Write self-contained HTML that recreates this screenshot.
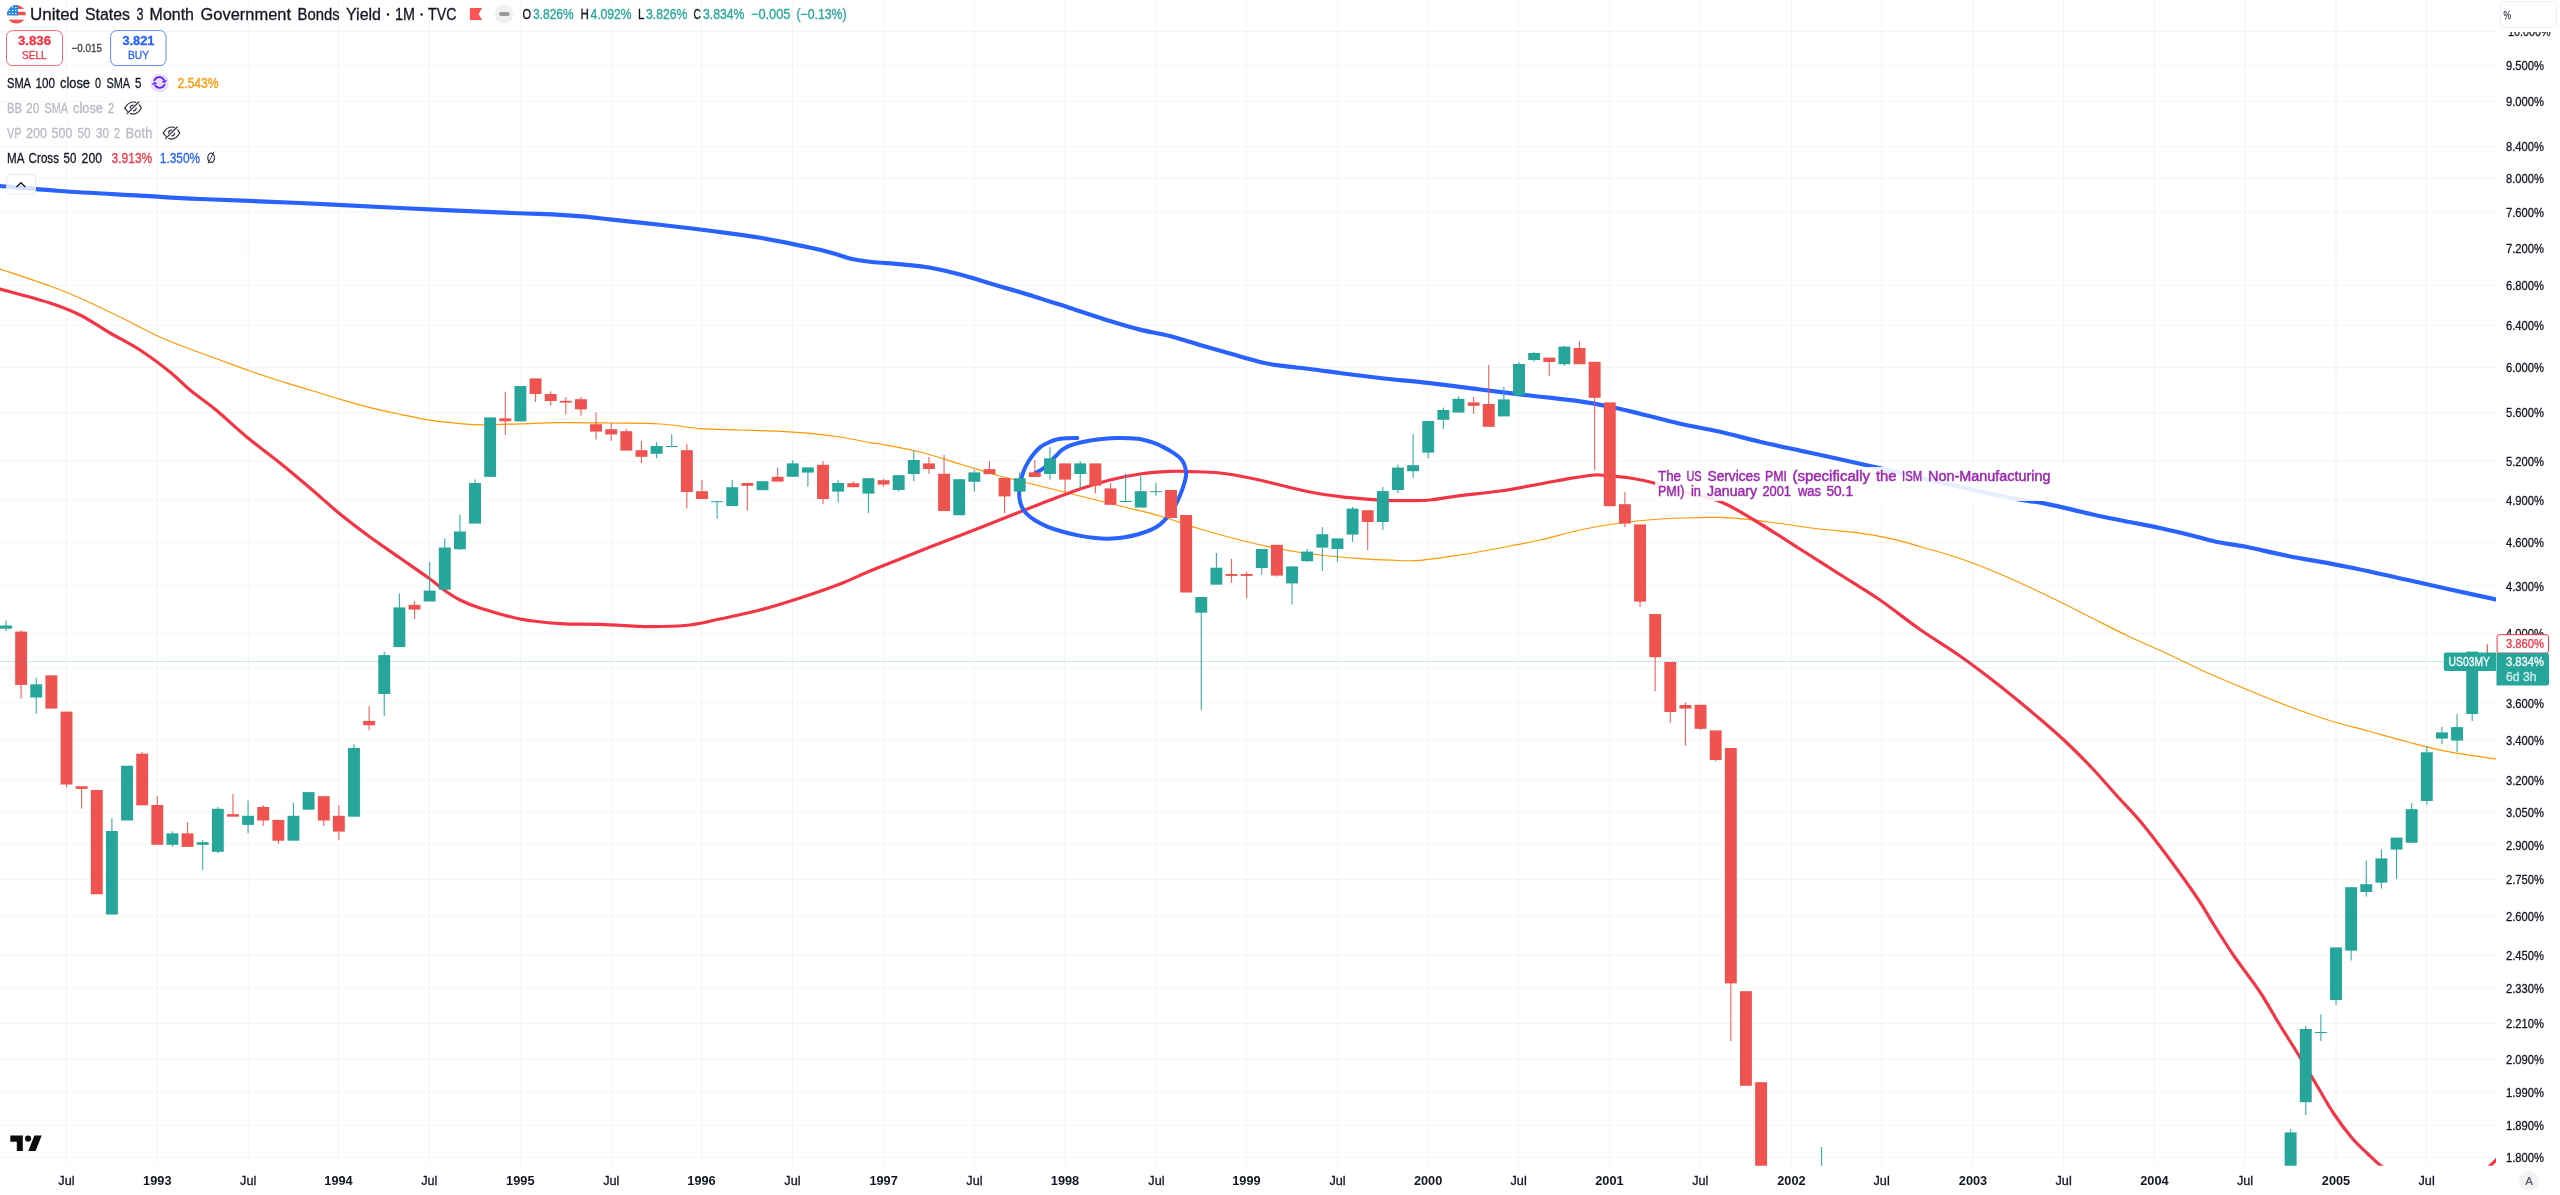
<!DOCTYPE html>
<html lang="en"><head><meta charset="utf-8"><title>US03MY chart</title>
<style>html,body{margin:0;padding:0;background:#fff;overflow:hidden}body{width:2560px;height:1195px;position:relative;font-family:"Liberation Sans", sans-serif}svg{position:absolute;left:0;top:0;display:block;will-change:transform;transform:translateZ(0)}text{font-family:"Liberation Sans", sans-serif;white-space:pre}</style></head><body>
<svg width="2560" height="1195" viewBox="0 0 2560 1195">
<defs><clipPath id="pane"><rect x="0" y="0" width="2496" height="1165.8"/></clipPath>
<clipPath id="axis"><rect x="2496" y="32" width="64" height="1133.8"/></clipPath>
<clipPath id="flag"><circle cx="16.4" cy="14.3" r="9.3"/></clipPath></defs>
<rect x="0" y="0" width="2560" height="1195" fill="#ffffff"/>
<g id="grid" stroke="#2a2e39" stroke-opacity="0.045" stroke-width="1.1">
<line x1="66.4" y1="0" x2="66.4" y2="1165.8"/>
<line x1="157.3" y1="0" x2="157.3" y2="1165.8"/>
<line x1="248.15" y1="0" x2="248.15" y2="1165.8"/>
<line x1="338.53" y1="0" x2="338.53" y2="1165.8"/>
<line x1="429.3" y1="0" x2="429.3" y2="1165.8"/>
<line x1="520.3" y1="0" x2="520.3" y2="1165.8"/>
<line x1="611.3" y1="0" x2="611.3" y2="1165.8"/>
<line x1="701.5" y1="0" x2="701.5" y2="1165.8"/>
<line x1="792.4" y1="0" x2="792.4" y2="1165.8"/>
<line x1="883.6" y1="0" x2="883.6" y2="1165.8"/>
<line x1="974.4" y1="0" x2="974.4" y2="1165.8"/>
<line x1="1065" y1="0" x2="1065" y2="1165.8"/>
<line x1="1156.4" y1="0" x2="1156.4" y2="1165.8"/>
<line x1="1246.4" y1="0" x2="1246.4" y2="1165.8"/>
<line x1="1337.55" y1="0" x2="1337.55" y2="1165.8"/>
<line x1="1428.1" y1="0" x2="1428.1" y2="1165.8"/>
<line x1="1518.6" y1="0" x2="1518.6" y2="1165.8"/>
<line x1="1609.4" y1="0" x2="1609.4" y2="1165.8"/>
<line x1="1700.3" y1="0" x2="1700.3" y2="1165.8"/>
<line x1="1791.45" y1="0" x2="1791.45" y2="1165.8"/>
<line x1="1881.6" y1="0" x2="1881.6" y2="1165.8"/>
<line x1="1973" y1="0" x2="1973" y2="1165.8"/>
<line x1="2063.6" y1="0" x2="2063.6" y2="1165.8"/>
<line x1="2154.4" y1="0" x2="2154.4" y2="1165.8"/>
<line x1="2245" y1="0" x2="2245" y2="1165.8"/>
<line x1="2336" y1="0" x2="2336" y2="1165.8"/>
<line x1="2426.6" y1="0" x2="2426.6" y2="1165.8"/>
<line x1="0" y1="31.5" x2="2496" y2="31.5"/>
<line x1="0" y1="65.5" x2="2496" y2="65.5"/>
<line x1="0" y1="101.5" x2="2496" y2="101.5"/>
<line x1="0" y1="146.5" x2="2496" y2="146.5"/>
<line x1="0" y1="178.2" x2="2496" y2="178.2"/>
<line x1="0" y1="212.4" x2="2496" y2="212.4"/>
<line x1="0" y1="248" x2="2496" y2="248"/>
<line x1="0" y1="285.3" x2="2496" y2="285.3"/>
<line x1="0" y1="325.2" x2="2496" y2="325.2"/>
<line x1="0" y1="367.6" x2="2496" y2="367.6"/>
<line x1="0" y1="412.6" x2="2496" y2="412.6"/>
<line x1="0" y1="461.1" x2="2496" y2="461.1"/>
<line x1="0" y1="500.3" x2="2496" y2="500.3"/>
<line x1="0" y1="542.4" x2="2496" y2="542.4"/>
<line x1="0" y1="585.8" x2="2496" y2="585.8"/>
<line x1="0" y1="633.5" x2="2496" y2="633.5"/>
<line x1="0" y1="667.6" x2="2496" y2="667.6"/>
<line x1="0" y1="702.8" x2="2496" y2="702.8"/>
<line x1="0" y1="740.4" x2="2496" y2="740.4"/>
<line x1="0" y1="780.4" x2="2496" y2="780.4"/>
<line x1="0" y1="812" x2="2496" y2="812"/>
<line x1="0" y1="844.8" x2="2496" y2="844.8"/>
<line x1="0" y1="879.6" x2="2496" y2="879.6"/>
<line x1="0" y1="916.5" x2="2496" y2="916.5"/>
<line x1="0" y1="955.4" x2="2496" y2="955.4"/>
<line x1="0" y1="988.3" x2="2496" y2="988.3"/>
<line x1="0" y1="1023.4" x2="2496" y2="1023.4"/>
<line x1="0" y1="1059.4" x2="2496" y2="1059.4"/>
<line x1="0" y1="1092.4" x2="2496" y2="1092.4"/>
<line x1="0" y1="1125.2" x2="2496" y2="1125.2"/>
<line x1="0" y1="1157.5" x2="2496" y2="1157.5"/>
</g>
<g clip-path="url(#pane)">
<path d="M-2,268.4C-1.67,268.5 -8.67,266.07 0,269C8.67,271.93 36.67,281.17 50,286C63.33,290.83 68.33,292.83 80,298C91.67,303.17 106.67,310.5 120,317C133.33,323.5 148.33,331.67 160,337C171.67,342.33 180,345.17 190,349C200,352.83 210,356.33 220,360C230,363.67 240,367.5 250,371C260,374.5 270,377.83 280,381C290,384.17 300,386.97 310,390C320,393.03 330,396.27 340,399.2C350,402.13 360,405.08 370,407.6C380,410.12 390,412.2 400,414.3C410,416.4 420,418.65 430,420.2C440,421.75 451,422.83 460,423.6C469,424.37 474,424.77 484,424.8C494,424.83 507.33,424.17 520,423.8C532.67,423.43 545,422.73 560,422.6C575,422.47 593.33,422.77 610,423C626.67,423.23 645,423.07 660,424C675,424.93 686.67,427.6 700,428.6C713.33,429.6 726.67,429.53 740,430C753.33,430.47 768.33,430.83 780,431.4C791.67,431.97 800,432.47 810,433.4C820,434.33 830,435.47 840,437C850,438.53 863.33,441.43 870,442.6C876.67,443.77 871.67,442.43 880,444C888.33,445.57 906.67,448.67 920,452C933.33,455.33 946.67,460 960,464C973.33,468 986.67,472.33 1000,476C1013.33,479.67 1026.67,482.67 1040,486C1053.33,489.33 1066.67,492.67 1080,496C1093.33,499.33 1106.67,502.67 1120,506C1133.33,509.33 1146.67,512.17 1160,516C1173.33,519.83 1186.67,525 1200,529C1213.33,533 1226.67,536.67 1240,540C1253.33,543.33 1266.67,546.5 1280,549C1293.33,551.5 1306.67,553.4 1320,555C1333.33,556.6 1348,557.73 1360,558.6C1372,559.47 1382,559.9 1392,560.2C1402,560.5 1408.67,561.27 1420,560.4C1431.33,559.53 1446.67,557.07 1460,555C1473.33,552.93 1486.67,550.5 1500,548C1513.33,545.5 1526.67,543 1540,540C1553.33,537 1566.67,532.83 1580,530C1593.33,527.17 1606.67,524.83 1620,523C1633.33,521.17 1646.67,519.9 1660,519C1673.33,518.1 1690,517.87 1700,517.6C1710,517.33 1711.67,517.07 1720,517.4C1728.33,517.73 1740,518.58 1750,519.6C1760,520.62 1768.33,521.93 1780,523.5C1791.67,525.07 1806.67,527.38 1820,529C1833.33,530.62 1848,531.57 1860,533.2C1872,534.83 1882,536.58 1892,538.8C1902,541.02 1908.67,543.22 1920,546.5C1931.33,549.78 1946.67,553.92 1960,558.5C1973.33,563.08 1985.33,567.75 2000,574C2014.67,580.25 2033.33,589 2048,596C2062.67,603 2074.67,609.33 2088,616C2101.33,622.67 2114.67,629.67 2128,636C2141.33,642.33 2154.67,647.83 2168,654C2181.33,660.17 2194.67,667 2208,673C2221.33,679 2234.67,684.5 2248,690C2261.33,695.5 2274.67,701 2288,706C2301.33,711 2314.67,715.83 2328,720C2341.33,724.17 2354.67,727.33 2368,731C2381.33,734.67 2394.67,738.57 2408,742C2421.33,745.43 2433.33,748.77 2448,751.6C2462.67,754.43 2487.67,757.72 2496,759C2504.33,760.28 2497.67,759.25 2498,759.3" fill="none" stroke="#ff9800" stroke-width="1.2" stroke-linejoin="round"/>
<path d="M-2,288.5C-1.67,288.58 -8.67,286.58 0,289C8.67,291.42 36.67,298.67 50,303C63.33,307.33 70,310 80,315C90,320 100,327.17 110,333C120,338.83 130,343.5 140,350C150,356.5 161.67,365.33 170,372C178.33,378.67 182.33,383.67 190,390C197.67,396.33 206.33,402 216,410C225.67,418 237.33,429.17 248,438C258.67,446.83 269.67,454.67 280,463C290.33,471.33 300,479.5 310,488C320,496.5 330,505.83 340,514C350,522.17 360,529.67 370,537C380,544.33 390,551 400,558C410,565 422.67,573.67 430,579C437.33,584.33 439,586.5 444,590C449,593.5 454,597 460,600C466,603 470,604.83 480,608C490,611.17 506.67,616.4 520,619C533.33,621.6 546.67,622.7 560,623.6C573.33,624.5 586.67,623.93 600,624.4C613.33,624.87 630.67,626.03 640,626.4C649.33,626.77 647.67,626.83 656,626.6C664.33,626.37 679.33,626.27 690,625C700.67,623.73 708.33,621.5 720,619C731.67,616.5 746.67,613.5 760,610C773.33,606.5 786.67,602.33 800,598C813.33,593.67 828.33,588.5 840,584C851.67,579.5 860,575.17 870,571C880,566.83 890,563 900,559C910,555 920,550.93 930,547C940,543.07 948.33,539.93 960,535.4C971.67,530.87 986.67,525.03 1000,519.8C1013.33,514.57 1026.67,509.13 1040,504C1053.33,498.87 1068.33,493 1080,489C1091.67,485 1100,482.5 1110,480C1120,477.5 1130,475.43 1140,474C1150,472.57 1161.67,471.8 1170,471.4C1178.33,471 1181.67,471.33 1190,471.6C1198.33,471.87 1210,471.93 1220,473C1230,474.07 1240,476 1250,478C1260,480 1270,482.67 1280,485C1290,487.33 1300,490.07 1310,492C1320,493.93 1330,495.37 1340,496.6C1350,497.83 1361.33,498.73 1370,499.4C1378.67,500.07 1385.33,500.4 1392,500.6C1398.67,500.8 1403.67,500.7 1410,500.6C1416.33,500.5 1421.67,500.83 1430,500C1438.33,499.17 1448.33,497.1 1460,495.6C1471.67,494.1 1486.67,492.93 1500,491C1513.33,489.07 1528.33,486.1 1540,484C1551.67,481.9 1561,479.9 1570,478.4C1579,476.9 1588.33,475.5 1594,475C1599.67,474.5 1598,474.9 1604,475.4C1610,475.9 1621.67,476.73 1630,478C1638.33,479.27 1645.67,480.83 1654,483C1662.33,485.17 1669,487.92 1680,491C1691,494.08 1707.67,496.67 1720,501.5C1732.33,506.33 1740.67,512.08 1754,520C1767.33,527.92 1785.67,539.92 1800,549C1814.33,558.08 1826.67,566 1840,574.5C1853.33,583 1866.67,590.83 1880,600C1893.33,609.17 1906.67,620.17 1920,629.5C1933.33,638.83 1946.67,646.58 1960,656C1973.33,665.42 1986.67,675.5 2000,686C2013.33,696.5 2029,709.67 2040,719C2051,728.33 2057.33,733.83 2066,742C2074.67,750.17 2083.33,758.83 2092,768C2100.67,777.17 2110,788.17 2118,797C2126,805.83 2131.67,811 2140,821C2148.33,831 2158.33,844 2168,857C2177.67,870 2190.33,887.67 2198,899C2205.67,910.33 2208,915.5 2214,925C2220,934.5 2226.33,944.83 2234,956C2241.67,967.17 2252.67,981 2260,992C2267.33,1003 2271.67,1011.67 2278,1022C2284.33,1032.33 2291.67,1043.67 2298,1054C2304.33,1064.33 2310,1074 2316,1084C2322,1094 2328,1105 2334,1114C2340,1123 2346.33,1131.33 2352,1138C2357.67,1144.67 2363.33,1149.5 2368,1154C2372.67,1158.5 2375.5,1161.33 2380,1165C2384.5,1168.67 2392.5,1174.17 2395,1176" fill="none" stroke="#f23645" stroke-width="3.2" stroke-linejoin="round" stroke-linecap="round"/>
<path d="M2484,1172C2485,1171 2488,1167.98 2490,1166C2492,1164.02 2494.5,1161.57 2496,1160.1C2497.5,1158.63 2498.5,1157.68 2499,1157.2" fill="none" stroke="#f23645" stroke-width="3.2" stroke-linejoin="round" stroke-linecap="round"/>
<path d="M-2,185.8C-1.67,185.83 -10.33,185.13 0,186C10.33,186.87 36.67,189.4 60,191C83.33,192.6 116.67,194.27 140,195.6C163.33,196.93 173.33,197.77 200,199C226.67,200.23 266.67,201.5 300,203C333.33,204.5 364.67,206.33 400,208C435.33,209.67 486.67,211.93 512,213C537.33,214.07 540.33,213.83 552,214.4C563.67,214.97 572,215.53 582,216.4C592,217.27 598.67,218.17 612,219.6C625.33,221.03 645.33,223.1 662,225C678.67,226.9 695.33,228.83 712,231C728.67,233.17 745.33,235.17 762,238C778.67,240.83 800.33,245.5 812,248C823.67,250.5 825.33,251.17 832,253C838.67,254.83 845.33,257.5 852,259C858.67,260.5 863.67,261.1 872,262C880.33,262.9 892,263.4 902,264.4C912,265.4 922,266.23 932,268C942,269.77 952,272.33 962,275C972,277.67 980,280.43 992,284C1004,287.57 1021,292.4 1034,296.4C1047,300.4 1057.33,303.9 1070,308C1082.67,312.1 1098.33,317.4 1110,321C1121.67,324.6 1130,327.1 1140,329.6C1150,332.1 1160,333.43 1170,336C1180,338.57 1190,342.07 1200,345C1210,347.93 1220,350.77 1230,353.6C1240,356.43 1251.67,360 1260,362C1268.33,364 1271.67,364.43 1280,365.6C1288.33,366.77 1300,367.77 1310,369C1320,370.23 1328.33,371.5 1340,373C1351.67,374.5 1365,376.3 1380,378C1395,379.7 1413.33,381.28 1430,383.2C1446.67,385.12 1463.33,387.45 1480,389.5C1496.67,391.55 1513.33,393.53 1530,395.5C1546.67,397.47 1566.67,399.43 1580,401.3C1593.33,403.17 1600,404.63 1610,406.7C1620,408.77 1628.33,410.87 1640,413.7C1651.67,416.53 1666.67,420.68 1680,423.7C1693.33,426.72 1706.67,428.78 1720,431.8C1733.33,434.82 1746.67,438.67 1760,441.8C1773.33,444.93 1786.67,447.7 1800,450.6C1813.33,453.5 1828.33,456.63 1840,459.2C1851.67,461.77 1861.33,464.03 1870,466C1878.67,467.97 1880.33,468.28 1892,471C1903.67,473.72 1923.67,478.53 1940,482.3C1956.33,486.07 1976.67,490.72 1990,493.6C2003.33,496.48 2011.17,498.02 2020,499.6C2028.83,501.18 2034.67,501.52 2043,503.1C2051.33,504.68 2060.42,506.92 2070,509.1C2079.58,511.28 2090.4,514.02 2100.5,516.2C2110.6,518.38 2120.57,520.2 2130.6,522.2C2140.63,524.2 2150.63,526.03 2160.7,528.2C2170.77,530.37 2181.78,532.93 2191,535.2C2200.22,537.47 2206.83,539.87 2216,541.8C2225.17,543.73 2234,544.43 2246,546.8C2258,549.17 2271,552.63 2288,556C2305,559.37 2328,563 2348,567C2368,571 2391.33,576.33 2408,580C2424.67,583.67 2433.33,585.77 2448,589C2462.67,592.23 2487.67,597.6 2496,599.4C2504.33,601.2 2497.67,599.73 2498,599.8" fill="none" stroke="#2962ff" stroke-width="4.2" stroke-linejoin="round" stroke-linecap="round"/>
<path d="M1077.4,438C1075.62,438.05 1070.15,438.05 1066.7,438.3C1063.25,438.55 1059.83,438.77 1056.7,439.5C1053.57,440.23 1050.63,441.43 1047.9,442.7C1045.17,443.97 1042.6,445.32 1040.3,447.1C1038,448.88 1036.08,451 1034.1,453.4C1032.12,455.8 1030.08,458.68 1028.4,461.5C1026.72,464.32 1025.25,467.17 1024,470.3C1022.75,473.43 1021.68,476.95 1020.9,480.3C1020.12,483.65 1019.52,487.25 1019.3,490.4C1019.08,493.55 1019.13,496.38 1019.6,499.2C1020.07,502.02 1020.95,504.9 1022.1,507.3C1023.25,509.7 1024.3,511.4 1026.5,513.6C1028.7,515.8 1031.73,518.3 1035.3,520.5C1038.87,522.7 1043.3,524.92 1047.9,526.8C1052.5,528.68 1057.67,530.33 1062.9,531.8C1068.13,533.27 1073.85,534.55 1079.3,535.6C1084.75,536.65 1090.8,537.58 1095.6,538.1C1100.4,538.62 1103.5,538.8 1108.1,538.7C1112.7,538.6 1118.17,538.23 1123.2,537.5C1128.23,536.77 1133.7,535.57 1138.3,534.3C1142.9,533.03 1147.25,531.47 1150.8,529.9C1154.35,528.33 1156.88,526.98 1159.6,524.9C1162.32,522.82 1164.8,520.12 1167.1,517.4C1169.4,514.68 1171.52,511.63 1173.4,508.6C1175.28,505.57 1176.83,502.65 1178.4,499.2C1179.97,495.75 1181.58,491.47 1182.8,487.9C1184.02,484.33 1185.17,480.52 1185.7,477.8C1186.23,475.08 1186.27,473.9 1186,471.6C1185.73,469.3 1185.15,466.32 1184.1,464C1183.05,461.68 1181.68,459.68 1179.7,457.7C1177.72,455.72 1174.92,453.87 1172.2,452.1C1169.48,450.33 1166.55,448.67 1163.4,447.1C1160.25,445.53 1156.87,443.97 1153.3,442.7C1149.73,441.43 1145.97,440.23 1142,439.5C1138.03,438.77 1133.68,438.55 1129.5,438.3C1125.32,438.05 1121.08,437.93 1116.9,438C1112.72,438.07 1108.58,438.33 1104.4,438.7C1100.22,439.07 1095.98,439.53 1091.8,440.2C1087.62,440.87 1083.07,441.77 1079.3,442.7C1075.53,443.63 1072.13,444.55 1069.2,445.8C1066.27,447.05 1063.78,448.63 1061.7,450.2C1059.62,451.77 1058.38,453.52 1056.7,455.2C1055.02,456.88 1053.28,458.62 1051.6,460.3C1049.92,461.98 1048.27,463.73 1046.6,465.3C1044.93,466.87 1043.48,468.45 1041.6,469.7C1039.72,470.95 1036.35,472.28 1035.3,472.8" fill="none" stroke="#2962ff" stroke-width="4" stroke-linejoin="round" stroke-linecap="round"/>
<g id="candles">
<rect x="5.45" y="620.5" width="1.1" height="10.8" fill="#26a69a" opacity="0.92"/>
<rect x="0.05" y="625.5" width="11.9" height="3.2" fill="#26a69a"/>
<rect x="20.58" y="630.2" width="1.1" height="68.5" fill="#ef5350" opacity="0.92"/>
<rect x="15.18" y="631.6" width="11.9" height="53.3" fill="#ef5350"/>
<rect x="35.71" y="677.6" width="1.1" height="36" fill="#26a69a" opacity="0.92"/>
<rect x="30.31" y="684.3" width="11.9" height="13.2" fill="#26a69a"/>
<rect x="50.84" y="676" width="1.1" height="31.9" fill="#ef5350" opacity="0.92"/>
<rect x="45.44" y="675.3" width="11.9" height="33.3" fill="#ef5350"/>
<rect x="65.97" y="712.3" width="1.1" height="75.1" fill="#ef5350" opacity="0.92"/>
<rect x="60.57" y="711.6" width="11.9" height="72.9" fill="#ef5350"/>
<rect x="81.1" y="786.9" width="1.1" height="21.6" fill="#ef5350" opacity="0.92"/>
<rect x="75.7" y="786.2" width="11.9" height="2.7" fill="#ef5350"/>
<rect x="96.23" y="790.7" width="1.1" height="102.9" fill="#ef5350" opacity="0.92"/>
<rect x="90.83" y="790" width="11.9" height="104.3" fill="#ef5350"/>
<rect x="111.36" y="818.2" width="1.1" height="95.6" fill="#26a69a" opacity="0.92"/>
<rect x="105.96" y="831" width="11.9" height="83.5" fill="#26a69a"/>
<rect x="126.49" y="766.4" width="1.1" height="53.4" fill="#26a69a" opacity="0.92"/>
<rect x="121.09" y="765.7" width="11.9" height="54.8" fill="#26a69a"/>
<rect x="141.62" y="752" width="1.1" height="52.6" fill="#ef5350" opacity="0.92"/>
<rect x="136.22" y="753.7" width="11.9" height="51.6" fill="#ef5350"/>
<rect x="156.75" y="796.2" width="1.1" height="47.9" fill="#ef5350" opacity="0.92"/>
<rect x="151.35" y="805" width="11.9" height="39.8" fill="#ef5350"/>
<rect x="171.88" y="831.3" width="1.1" height="15.3" fill="#26a69a" opacity="0.92"/>
<rect x="166.48" y="833.4" width="11.9" height="11.4" fill="#26a69a"/>
<rect x="187.01" y="822.3" width="1.1" height="23.9" fill="#ef5350" opacity="0.92"/>
<rect x="181.61" y="833.4" width="11.9" height="13.5" fill="#ef5350"/>
<rect x="202.14" y="840.1" width="1.1" height="29.9" fill="#26a69a" opacity="0.92"/>
<rect x="196.74" y="842.2" width="11.9" height="2.6" fill="#26a69a"/>
<rect x="217.27" y="807" width="1.1" height="46.3" fill="#26a69a" opacity="0.92"/>
<rect x="211.87" y="808.8" width="11.9" height="43" fill="#26a69a"/>
<rect x="232.4" y="793.9" width="1.1" height="22.1" fill="#ef5350" opacity="0.92"/>
<rect x="227" y="814.1" width="11.9" height="2.6" fill="#ef5350"/>
<rect x="247.53" y="800.6" width="1.1" height="32.5" fill="#26a69a" opacity="0.92"/>
<rect x="242.13" y="815.8" width="11.9" height="9.1" fill="#26a69a"/>
<rect x="262.66" y="805" width="1.1" height="21.1" fill="#ef5350" opacity="0.92"/>
<rect x="257.26" y="807" width="11.9" height="13.5" fill="#ef5350"/>
<rect x="277.79" y="820.6" width="1.1" height="23.3" fill="#ef5350" opacity="0.92"/>
<rect x="272.39" y="819.9" width="11.9" height="20.8" fill="#ef5350"/>
<rect x="292.92" y="802.6" width="1.1" height="37.4" fill="#26a69a" opacity="0.92"/>
<rect x="287.52" y="815.8" width="11.9" height="24.9" fill="#26a69a"/>
<rect x="308.05" y="792.8" width="1.1" height="16.2" fill="#26a69a" opacity="0.92"/>
<rect x="302.65" y="792.1" width="11.9" height="17.6" fill="#26a69a"/>
<rect x="323.18" y="796.9" width="1.1" height="29.2" fill="#ef5350" opacity="0.92"/>
<rect x="317.78" y="796.2" width="11.9" height="24.3" fill="#ef5350"/>
<rect x="338.31" y="805" width="1.1" height="35.1" fill="#ef5350" opacity="0.92"/>
<rect x="332.91" y="815.8" width="11.9" height="15.8" fill="#ef5350"/>
<rect x="353.44" y="744.1" width="1.1" height="71.9" fill="#26a69a" opacity="0.92"/>
<rect x="348.04" y="747.9" width="11.9" height="68.8" fill="#26a69a"/>
<rect x="368.57" y="706" width="1.1" height="24.3" fill="#ef5350" opacity="0.92"/>
<rect x="363.17" y="720.9" width="11.9" height="4.4" fill="#ef5350"/>
<rect x="383.7" y="651.8" width="1.1" height="63.9" fill="#26a69a" opacity="0.92"/>
<rect x="378.3" y="655.1" width="11.9" height="38.9" fill="#26a69a"/>
<rect x="398.83" y="593.4" width="1.1" height="53" fill="#26a69a" opacity="0.92"/>
<rect x="393.43" y="607.4" width="11.9" height="39.7" fill="#26a69a"/>
<rect x="413.96" y="601" width="1.1" height="18" fill="#ef5350" opacity="0.92"/>
<rect x="408.56" y="604.8" width="11.9" height="4.8" fill="#ef5350"/>
<rect x="429.09" y="562" width="1.1" height="38.8" fill="#26a69a" opacity="0.92"/>
<rect x="423.69" y="590.6" width="11.9" height="10.9" fill="#26a69a"/>
<rect x="444.22" y="538.4" width="1.1" height="50.6" fill="#26a69a" opacity="0.92"/>
<rect x="438.82" y="547.5" width="11.9" height="42.2" fill="#26a69a"/>
<rect x="459.35" y="514.8" width="1.1" height="35.2" fill="#26a69a" opacity="0.92"/>
<rect x="453.95" y="531.5" width="11.9" height="17.7" fill="#26a69a"/>
<rect x="474.48" y="479.4" width="1.1" height="43.5" fill="#26a69a" opacity="0.92"/>
<rect x="469.08" y="483" width="11.9" height="40.6" fill="#26a69a"/>
<rect x="489.61" y="418.1" width="1.1" height="58.1" fill="#26a69a" opacity="0.92"/>
<rect x="484.21" y="417.4" width="11.9" height="59.5" fill="#26a69a"/>
<rect x="504.74" y="391.7" width="1.1" height="43" fill="#ef5350" opacity="0.92"/>
<rect x="499.34" y="418.3" width="11.9" height="3" fill="#ef5350"/>
<rect x="519.87" y="386.7" width="1.1" height="34" fill="#26a69a" opacity="0.92"/>
<rect x="514.47" y="386" width="11.9" height="35.4" fill="#26a69a"/>
<rect x="535" y="379.1" width="1.1" height="22.9" fill="#ef5350" opacity="0.92"/>
<rect x="529.6" y="378.4" width="11.9" height="15.6" fill="#ef5350"/>
<rect x="550.13" y="391.4" width="1.1" height="14.2" fill="#ef5350" opacity="0.92"/>
<rect x="544.73" y="394" width="11.9" height="7" fill="#ef5350"/>
<rect x="565.26" y="397" width="1.1" height="17.4" fill="#ef5350" opacity="0.92"/>
<rect x="559.86" y="400.8" width="11.9" height="1.8" fill="#ef5350"/>
<rect x="580.39" y="397" width="1.1" height="18.8" fill="#ef5350" opacity="0.92"/>
<rect x="574.99" y="399.2" width="11.9" height="10.2" fill="#ef5350"/>
<rect x="595.52" y="412.4" width="1.1" height="27.2" fill="#ef5350" opacity="0.92"/>
<rect x="590.12" y="424.2" width="11.9" height="7.4" fill="#ef5350"/>
<rect x="610.65" y="423" width="1.1" height="17.8" fill="#ef5350" opacity="0.92"/>
<rect x="605.25" y="429.2" width="11.9" height="5.2" fill="#ef5350"/>
<rect x="625.78" y="429.2" width="1.1" height="20.7" fill="#ef5350" opacity="0.92"/>
<rect x="620.38" y="431.2" width="11.9" height="19.4" fill="#ef5350"/>
<rect x="640.91" y="441" width="1.1" height="22" fill="#ef5350" opacity="0.92"/>
<rect x="635.51" y="450.2" width="11.9" height="6.6" fill="#ef5350"/>
<rect x="656.04" y="442.2" width="1.1" height="16" fill="#26a69a" opacity="0.92"/>
<rect x="650.64" y="446" width="11.9" height="7.8" fill="#26a69a"/>
<rect x="671.17" y="434.2" width="1.1" height="11.9" fill="#26a69a" opacity="0.92"/>
<rect x="665.77" y="446" width="11.9" height="1" fill="#26a69a"/>
<rect x="686.3" y="444" width="1.1" height="64.4" fill="#ef5350" opacity="0.92"/>
<rect x="680.9" y="450.2" width="11.9" height="41.8" fill="#ef5350"/>
<rect x="701.43" y="480" width="1.1" height="18.3" fill="#ef5350" opacity="0.92"/>
<rect x="696.03" y="491.2" width="11.9" height="7.8" fill="#ef5350"/>
<rect x="716.56" y="501.9" width="1.1" height="16.7" fill="#26a69a" opacity="0.92"/>
<rect x="711.16" y="501.2" width="11.9" height="1" fill="#26a69a"/>
<rect x="731.69" y="480" width="1.1" height="25.3" fill="#26a69a" opacity="0.92"/>
<rect x="726.29" y="487.2" width="11.9" height="18.8" fill="#26a69a"/>
<rect x="746.82" y="483.7" width="1.1" height="26.7" fill="#ef5350" opacity="0.92"/>
<rect x="741.42" y="483" width="11.9" height="2.8" fill="#ef5350"/>
<rect x="761.95" y="481.9" width="1.1" height="7.6" fill="#26a69a" opacity="0.92"/>
<rect x="756.55" y="481.2" width="11.9" height="9" fill="#26a69a"/>
<rect x="777.08" y="467.4" width="1.1" height="13.5" fill="#ef5350" opacity="0.92"/>
<rect x="771.68" y="476.8" width="11.9" height="4.8" fill="#ef5350"/>
<rect x="792.21" y="460.2" width="1.1" height="15.9" fill="#26a69a" opacity="0.92"/>
<rect x="786.81" y="463.4" width="11.9" height="13.4" fill="#26a69a"/>
<rect x="807.34" y="468.1" width="1.1" height="18.5" fill="#26a69a" opacity="0.92"/>
<rect x="801.94" y="467.4" width="11.9" height="5.2" fill="#26a69a"/>
<rect x="822.47" y="461.2" width="1.1" height="42.8" fill="#ef5350" opacity="0.92"/>
<rect x="817.07" y="464.8" width="11.9" height="34.2" fill="#ef5350"/>
<rect x="837.6" y="480.2" width="1.1" height="22.4" fill="#26a69a" opacity="0.92"/>
<rect x="832.2" y="483" width="11.9" height="8.6" fill="#26a69a"/>
<rect x="852.73" y="481.2" width="1.1" height="5.3" fill="#ef5350" opacity="0.92"/>
<rect x="847.33" y="483.2" width="11.9" height="4" fill="#ef5350"/>
<rect x="867.86" y="478.9" width="1.1" height="34.1" fill="#26a69a" opacity="0.92"/>
<rect x="862.46" y="478.2" width="11.9" height="15.4" fill="#26a69a"/>
<rect x="882.99" y="479" width="1.1" height="7.6" fill="#ef5350" opacity="0.92"/>
<rect x="877.59" y="480.2" width="11.9" height="4.3" fill="#ef5350"/>
<rect x="898.12" y="475.9" width="1.1" height="15.7" fill="#26a69a" opacity="0.92"/>
<rect x="892.72" y="475.2" width="11.9" height="14.8" fill="#26a69a"/>
<rect x="913.25" y="450.4" width="1.1" height="30.8" fill="#26a69a" opacity="0.92"/>
<rect x="907.85" y="460" width="11.9" height="14" fill="#26a69a"/>
<rect x="928.38" y="457" width="1.1" height="16.8" fill="#ef5350" opacity="0.92"/>
<rect x="922.98" y="463.4" width="11.9" height="5.6" fill="#ef5350"/>
<rect x="943.51" y="455" width="1.1" height="55.3" fill="#ef5350" opacity="0.92"/>
<rect x="938.11" y="473.8" width="11.9" height="37.2" fill="#ef5350"/>
<rect x="958.64" y="479.9" width="1.1" height="34.6" fill="#26a69a" opacity="0.92"/>
<rect x="953.24" y="479.2" width="11.9" height="36" fill="#26a69a"/>
<rect x="973.77" y="470.2" width="1.1" height="21.4" fill="#26a69a" opacity="0.92"/>
<rect x="968.37" y="472.4" width="11.9" height="9.4" fill="#26a69a"/>
<rect x="988.9" y="461.2" width="1.1" height="12.3" fill="#ef5350" opacity="0.92"/>
<rect x="983.5" y="469.2" width="11.9" height="5" fill="#ef5350"/>
<rect x="1004.03" y="478.7" width="1.1" height="34.5" fill="#ef5350" opacity="0.92"/>
<rect x="998.63" y="478" width="11.9" height="18.4" fill="#ef5350"/>
<rect x="1019.16" y="472.4" width="1.1" height="18.5" fill="#26a69a" opacity="0.92"/>
<rect x="1013.76" y="478.2" width="11.9" height="13.4" fill="#26a69a"/>
<rect x="1034.29" y="460" width="1.1" height="16.3" fill="#ef5350" opacity="0.92"/>
<rect x="1028.89" y="472.4" width="11.9" height="4.6" fill="#ef5350"/>
<rect x="1049.42" y="447.1" width="1.1" height="32.7" fill="#26a69a" opacity="0.92"/>
<rect x="1044.02" y="458.3" width="11.9" height="15.7" fill="#26a69a"/>
<rect x="1064.55" y="464.1" width="1.1" height="28.3" fill="#ef5350" opacity="0.92"/>
<rect x="1059.15" y="463.4" width="11.9" height="16.2" fill="#ef5350"/>
<rect x="1079.68" y="461.2" width="1.1" height="28" fill="#26a69a" opacity="0.92"/>
<rect x="1074.28" y="463.4" width="11.9" height="10.6" fill="#26a69a"/>
<rect x="1094.81" y="464.1" width="1.1" height="29.1" fill="#ef5350" opacity="0.92"/>
<rect x="1089.41" y="463.4" width="11.9" height="22.2" fill="#ef5350"/>
<rect x="1109.94" y="483" width="1.1" height="21.1" fill="#ef5350" opacity="0.92"/>
<rect x="1104.54" y="488.4" width="11.9" height="16.4" fill="#ef5350"/>
<rect x="1125.07" y="473.6" width="1.1" height="27.7" fill="#26a69a" opacity="0.92"/>
<rect x="1119.67" y="501" width="11.9" height="1" fill="#26a69a"/>
<rect x="1140.2" y="475.8" width="1.1" height="31.1" fill="#26a69a" opacity="0.92"/>
<rect x="1134.8" y="491.2" width="11.9" height="16.4" fill="#26a69a"/>
<rect x="1155.33" y="483" width="1.1" height="12.8" fill="#26a69a" opacity="0.92"/>
<rect x="1149.93" y="491.2" width="11.9" height="1" fill="#26a69a"/>
<rect x="1170.46" y="490.7" width="1.1" height="26.6" fill="#ef5350" opacity="0.92"/>
<rect x="1165.06" y="490" width="11.9" height="28" fill="#ef5350"/>
<rect x="1185.59" y="515.7" width="1.1" height="76.1" fill="#ef5350" opacity="0.92"/>
<rect x="1180.19" y="515" width="11.9" height="77.5" fill="#ef5350"/>
<rect x="1200.72" y="597.7" width="1.1" height="112.3" fill="#26a69a" opacity="0.92"/>
<rect x="1195.32" y="597" width="11.9" height="15.7" fill="#26a69a"/>
<rect x="1215.85" y="553" width="1.1" height="31" fill="#26a69a" opacity="0.92"/>
<rect x="1210.45" y="567.7" width="11.9" height="17" fill="#26a69a"/>
<rect x="1230.98" y="559" width="1.1" height="23.9" fill="#ef5350" opacity="0.92"/>
<rect x="1225.58" y="574" width="11.9" height="1.9" fill="#ef5350"/>
<rect x="1246.11" y="572" width="1.1" height="26.2" fill="#ef5350" opacity="0.92"/>
<rect x="1240.71" y="574" width="11.9" height="1.9" fill="#ef5350"/>
<rect x="1261.24" y="549.7" width="1.1" height="25.1" fill="#26a69a" opacity="0.92"/>
<rect x="1255.84" y="549" width="11.9" height="19" fill="#26a69a"/>
<rect x="1276.37" y="545.5" width="1.1" height="31" fill="#ef5350" opacity="0.92"/>
<rect x="1270.97" y="544.8" width="11.9" height="30.8" fill="#ef5350"/>
<rect x="1291.5" y="567.1" width="1.1" height="37.3" fill="#26a69a" opacity="0.92"/>
<rect x="1286.1" y="566.4" width="11.9" height="17" fill="#26a69a"/>
<rect x="1306.63" y="549" width="1.1" height="13" fill="#26a69a" opacity="0.92"/>
<rect x="1301.23" y="551.6" width="11.9" height="9.6" fill="#26a69a"/>
<rect x="1321.76" y="527.2" width="1.1" height="43.6" fill="#26a69a" opacity="0.92"/>
<rect x="1316.36" y="534.2" width="11.9" height="13.4" fill="#26a69a"/>
<rect x="1336.89" y="539.1" width="1.1" height="22.7" fill="#26a69a" opacity="0.92"/>
<rect x="1331.49" y="538.4" width="11.9" height="10.6" fill="#26a69a"/>
<rect x="1352.02" y="507" width="1.1" height="34.8" fill="#26a69a" opacity="0.92"/>
<rect x="1346.62" y="508.6" width="11.9" height="26" fill="#26a69a"/>
<rect x="1367.15" y="510.9" width="1.1" height="39.1" fill="#ef5350" opacity="0.92"/>
<rect x="1361.75" y="510.2" width="11.9" height="11.8" fill="#ef5350"/>
<rect x="1382.28" y="487" width="1.1" height="42.8" fill="#26a69a" opacity="0.92"/>
<rect x="1376.88" y="491.1" width="11.9" height="30.9" fill="#26a69a"/>
<rect x="1397.41" y="464.4" width="1.1" height="28.6" fill="#26a69a" opacity="0.92"/>
<rect x="1392.01" y="467.6" width="11.9" height="22.4" fill="#26a69a"/>
<rect x="1412.54" y="434" width="1.1" height="44" fill="#26a69a" opacity="0.92"/>
<rect x="1407.14" y="465.2" width="11.9" height="6" fill="#26a69a"/>
<rect x="1427.67" y="421.7" width="1.1" height="36.5" fill="#26a69a" opacity="0.92"/>
<rect x="1422.27" y="421" width="11.9" height="31.6" fill="#26a69a"/>
<rect x="1442.8" y="407.6" width="1.1" height="21.4" fill="#26a69a" opacity="0.92"/>
<rect x="1437.4" y="410" width="11.9" height="9.8" fill="#26a69a"/>
<rect x="1457.93" y="396.4" width="1.1" height="15.5" fill="#26a69a" opacity="0.92"/>
<rect x="1452.53" y="398.8" width="11.9" height="13.8" fill="#26a69a"/>
<rect x="1473.06" y="397" width="1.1" height="17" fill="#ef5350" opacity="0.92"/>
<rect x="1467.66" y="402.4" width="11.9" height="3.4" fill="#ef5350"/>
<rect x="1488.19" y="365" width="1.1" height="61.1" fill="#ef5350" opacity="0.92"/>
<rect x="1482.79" y="404" width="11.9" height="22.8" fill="#ef5350"/>
<rect x="1503.32" y="386.8" width="1.1" height="28.9" fill="#26a69a" opacity="0.92"/>
<rect x="1497.92" y="399.4" width="11.9" height="17" fill="#26a69a"/>
<rect x="1518.45" y="362" width="1.1" height="32.7" fill="#26a69a" opacity="0.92"/>
<rect x="1513.05" y="364" width="11.9" height="31.4" fill="#26a69a"/>
<rect x="1533.58" y="352" width="1.1" height="9.6" fill="#26a69a" opacity="0.92"/>
<rect x="1528.18" y="353" width="11.9" height="7" fill="#26a69a"/>
<rect x="1548.71" y="358.3" width="1.1" height="17.5" fill="#ef5350" opacity="0.92"/>
<rect x="1543.31" y="357.6" width="11.9" height="4.4" fill="#ef5350"/>
<rect x="1563.84" y="345.6" width="1.1" height="20.4" fill="#26a69a" opacity="0.92"/>
<rect x="1558.44" y="346.6" width="11.9" height="17.6" fill="#26a69a"/>
<rect x="1578.97" y="341.4" width="1.1" height="22.1" fill="#ef5350" opacity="0.92"/>
<rect x="1573.57" y="348" width="11.9" height="16.2" fill="#ef5350"/>
<rect x="1594.1" y="362.5" width="1.1" height="107.5" fill="#ef5350" opacity="0.92"/>
<rect x="1588.7" y="361.8" width="11.9" height="36" fill="#ef5350"/>
<rect x="1609.23" y="403.1" width="1.1" height="102.4" fill="#ef5350" opacity="0.92"/>
<rect x="1603.83" y="402.4" width="11.9" height="103.8" fill="#ef5350"/>
<rect x="1624.36" y="492" width="1.1" height="35" fill="#ef5350" opacity="0.92"/>
<rect x="1618.96" y="504.2" width="11.9" height="19.4" fill="#ef5350"/>
<rect x="1639.49" y="525.1" width="1.1" height="82.1" fill="#ef5350" opacity="0.92"/>
<rect x="1634.09" y="524.4" width="11.9" height="77.2" fill="#ef5350"/>
<rect x="1654.62" y="614.7" width="1.1" height="76.5" fill="#ef5350" opacity="0.92"/>
<rect x="1649.22" y="614" width="11.9" height="43.2" fill="#ef5350"/>
<rect x="1669.75" y="662.7" width="1.1" height="59.9" fill="#ef5350" opacity="0.92"/>
<rect x="1664.35" y="662" width="11.9" height="50" fill="#ef5350"/>
<rect x="1684.88" y="702.4" width="1.1" height="43.2" fill="#ef5350" opacity="0.92"/>
<rect x="1679.48" y="705" width="11.9" height="3.6" fill="#ef5350"/>
<rect x="1700.01" y="705.5" width="1.1" height="24.5" fill="#ef5350" opacity="0.92"/>
<rect x="1694.61" y="704.8" width="11.9" height="24" fill="#ef5350"/>
<rect x="1715.14" y="731.1" width="1.1" height="30.3" fill="#ef5350" opacity="0.92"/>
<rect x="1709.74" y="730.4" width="11.9" height="29.6" fill="#ef5350"/>
<rect x="1730.27" y="748.7" width="1.1" height="292.3" fill="#ef5350" opacity="0.92"/>
<rect x="1724.87" y="748" width="11.9" height="235.4" fill="#ef5350"/>
<rect x="1745.4" y="991.9" width="1.1" height="93.2" fill="#ef5350" opacity="0.92"/>
<rect x="1740" y="991.2" width="11.9" height="94.6" fill="#ef5350"/>
<rect x="1760.53" y="1082.9" width="1.1" height="82.4" fill="#ef5350" opacity="0.92"/>
<rect x="1755.13" y="1082.2" width="11.9" height="83.8" fill="#ef5350"/>
<rect x="1821.05" y="1147" width="1.1" height="19" fill="#26a69a" opacity="0.92"/>
<rect x="2290.08" y="1129.2" width="1.1" height="36.1" fill="#26a69a" opacity="0.92"/>
<rect x="2284.68" y="1132.4" width="11.9" height="33.6" fill="#26a69a"/>
<rect x="2305.21" y="1026" width="1.1" height="89" fill="#26a69a" opacity="0.92"/>
<rect x="2299.81" y="1029" width="11.9" height="73.2" fill="#26a69a"/>
<rect x="2320.34" y="1014.4" width="1.1" height="26.6" fill="#26a69a" opacity="0.92"/>
<rect x="2314.94" y="1032" width="11.9" height="1" fill="#26a69a"/>
<rect x="2335.47" y="948.1" width="1.1" height="56.7" fill="#26a69a" opacity="0.92"/>
<rect x="2330.07" y="947.4" width="11.9" height="52.6" fill="#26a69a"/>
<rect x="2350.6" y="887.9" width="1.1" height="72.5" fill="#26a69a" opacity="0.92"/>
<rect x="2345.2" y="887.2" width="11.9" height="63.4" fill="#26a69a"/>
<rect x="2365.73" y="860.4" width="1.1" height="36.2" fill="#26a69a" opacity="0.92"/>
<rect x="2360.33" y="884.2" width="11.9" height="7.8" fill="#26a69a"/>
<rect x="2380.86" y="849.4" width="1.1" height="39.2" fill="#26a69a" opacity="0.92"/>
<rect x="2375.46" y="858.4" width="11.9" height="24.2" fill="#26a69a"/>
<rect x="2395.99" y="838.3" width="1.1" height="40.7" fill="#26a69a" opacity="0.92"/>
<rect x="2390.59" y="837.6" width="11.9" height="12" fill="#26a69a"/>
<rect x="2411.12" y="803" width="1.1" height="39.1" fill="#26a69a" opacity="0.92"/>
<rect x="2405.72" y="809.2" width="11.9" height="33.6" fill="#26a69a"/>
<rect x="2426.25" y="746" width="1.1" height="58.6" fill="#26a69a" opacity="0.92"/>
<rect x="2420.85" y="752.3" width="11.9" height="48.7" fill="#26a69a"/>
<rect x="2441.38" y="727" width="1.1" height="17" fill="#26a69a" opacity="0.92"/>
<rect x="2435.98" y="732.4" width="11.9" height="6.2" fill="#26a69a"/>
<rect x="2456.51" y="714" width="1.1" height="38" fill="#26a69a" opacity="0.92"/>
<rect x="2451.11" y="727.1" width="11.9" height="13.5" fill="#26a69a"/>
<rect x="2471.64" y="652.3" width="1.1" height="68.7" fill="#26a69a" opacity="0.92"/>
<rect x="2466.24" y="651.6" width="11.9" height="62.4" fill="#26a69a"/>
<rect x="2486.77" y="644.4" width="1.1" height="8.6" fill="#ef5350" opacity="0.92"/>
</g>
<line x1="0" y1="661.5" x2="2496" y2="661.5" stroke="#26a69a" stroke-width="1" stroke-dasharray="1 1" opacity="0.45"/>
<rect x="1655" y="467" width="423" height="34" fill="#ffffff" opacity="0.89"/>
<text x="1658" y="481.2" font-size="14" fill="#9c27b0" font-weight="normal" text-anchor="start" textLength="23" lengthAdjust="spacingAndGlyphs" stroke="#9c27b0" stroke-width="0.45">The</text>
<text x="1686.4" y="481.2" font-size="14" fill="#9c27b0" font-weight="normal" text-anchor="start" textLength="15.2" lengthAdjust="spacingAndGlyphs" stroke="#9c27b0" stroke-width="0.45">US</text>
<text x="1707.6" y="481.2" font-size="14" fill="#9c27b0" font-weight="normal" text-anchor="start" textLength="52.4" lengthAdjust="spacingAndGlyphs" stroke="#9c27b0" stroke-width="0.45">Services</text>
<text x="1765" y="481.2" font-size="14" fill="#9c27b0" font-weight="normal" text-anchor="start" textLength="22" lengthAdjust="spacingAndGlyphs" stroke="#9c27b0" stroke-width="0.45">PMI</text>
<text x="1792.4" y="481.2" font-size="14" fill="#9c27b0" font-weight="normal" text-anchor="start" textLength="77.6" lengthAdjust="spacingAndGlyphs" stroke="#9c27b0" stroke-width="0.45">(specifically</text>
<text x="1876" y="481.2" font-size="14" fill="#9c27b0" font-weight="normal" text-anchor="start" textLength="20.6" lengthAdjust="spacingAndGlyphs" stroke="#9c27b0" stroke-width="0.45">the</text>
<text x="1902" y="481.2" font-size="14" fill="#9c27b0" font-weight="normal" text-anchor="start" textLength="20" lengthAdjust="spacingAndGlyphs" stroke="#9c27b0" stroke-width="0.45">ISM</text>
<text x="1928" y="481.2" font-size="14" fill="#9c27b0" font-weight="normal" text-anchor="start" textLength="122.6" lengthAdjust="spacingAndGlyphs" stroke="#9c27b0" stroke-width="0.45">Non-Manufacturing</text>
<text x="1658" y="495.9" font-size="14" fill="#9c27b0" font-weight="normal" text-anchor="start" textLength="26.4" lengthAdjust="spacingAndGlyphs" stroke="#9c27b0" stroke-width="0.45">PMI)</text>
<text x="1691" y="495.9" font-size="14" fill="#9c27b0" font-weight="normal" text-anchor="start" textLength="10" lengthAdjust="spacingAndGlyphs" stroke="#9c27b0" stroke-width="0.45">in</text>
<text x="1707" y="495.9" font-size="14" fill="#9c27b0" font-weight="normal" text-anchor="start" textLength="50" lengthAdjust="spacingAndGlyphs" stroke="#9c27b0" stroke-width="0.45">January</text>
<text x="1762.4" y="495.9" font-size="14" fill="#9c27b0" font-weight="normal" text-anchor="start" textLength="28.6" lengthAdjust="spacingAndGlyphs" stroke="#9c27b0" stroke-width="0.45">2001</text>
<text x="1798" y="495.9" font-size="14" fill="#9c27b0" font-weight="normal" text-anchor="start" textLength="23" lengthAdjust="spacingAndGlyphs" stroke="#9c27b0" stroke-width="0.45">was</text>
<text x="1826.4" y="495.9" font-size="14" fill="#9c27b0" font-weight="normal" text-anchor="start" textLength="26.6" lengthAdjust="spacingAndGlyphs" stroke="#9c27b0" stroke-width="0.45">50.1</text>
<rect x="2486.95" y="644.6" width="1.1" height="8.5" fill="#ef5350" opacity="0.8"/>
<path d="M2445.8,652.4 H2496 V671 H2445.8 a2,2 0 0 1 -2,-2 V654.4 a2,2 0 0 1 2,-2z" fill="#26a69a"/>
<text x="2448.6" y="666.3" font-size="12.4" fill="#ffffff" font-weight="normal" text-anchor="start" textLength="41.4" lengthAdjust="spacingAndGlyphs" stroke="#ffffff" stroke-width="0.3">US03MY</text>
</g>
<g clip-path="url(#axis)">
<text x="2508" y="36.2" font-size="12.6" fill="#131722" font-weight="normal" text-anchor="start" textLength="42.6" lengthAdjust="spacingAndGlyphs" stroke="#131722" stroke-width="0.3">10.000%</text>
<text x="2506" y="70.2" font-size="12.6" fill="#131722" font-weight="normal" text-anchor="start" textLength="38" lengthAdjust="spacingAndGlyphs" stroke="#131722" stroke-width="0.3">9.500%</text>
<text x="2506" y="106.2" font-size="12.6" fill="#131722" font-weight="normal" text-anchor="start" textLength="38" lengthAdjust="spacingAndGlyphs" stroke="#131722" stroke-width="0.3">9.000%</text>
<text x="2506" y="151.2" font-size="12.6" fill="#131722" font-weight="normal" text-anchor="start" textLength="38" lengthAdjust="spacingAndGlyphs" stroke="#131722" stroke-width="0.3">8.400%</text>
<text x="2506" y="182.9" font-size="12.6" fill="#131722" font-weight="normal" text-anchor="start" textLength="38" lengthAdjust="spacingAndGlyphs" stroke="#131722" stroke-width="0.3">8.000%</text>
<text x="2506" y="217.1" font-size="12.6" fill="#131722" font-weight="normal" text-anchor="start" textLength="38" lengthAdjust="spacingAndGlyphs" stroke="#131722" stroke-width="0.3">7.600%</text>
<text x="2506" y="252.7" font-size="12.6" fill="#131722" font-weight="normal" text-anchor="start" textLength="38" lengthAdjust="spacingAndGlyphs" stroke="#131722" stroke-width="0.3">7.200%</text>
<text x="2506" y="290" font-size="12.6" fill="#131722" font-weight="normal" text-anchor="start" textLength="38" lengthAdjust="spacingAndGlyphs" stroke="#131722" stroke-width="0.3">6.800%</text>
<text x="2506" y="329.9" font-size="12.6" fill="#131722" font-weight="normal" text-anchor="start" textLength="38" lengthAdjust="spacingAndGlyphs" stroke="#131722" stroke-width="0.3">6.400%</text>
<text x="2506" y="372.3" font-size="12.6" fill="#131722" font-weight="normal" text-anchor="start" textLength="38" lengthAdjust="spacingAndGlyphs" stroke="#131722" stroke-width="0.3">6.000%</text>
<text x="2506" y="417.3" font-size="12.6" fill="#131722" font-weight="normal" text-anchor="start" textLength="38" lengthAdjust="spacingAndGlyphs" stroke="#131722" stroke-width="0.3">5.600%</text>
<text x="2506" y="465.8" font-size="12.6" fill="#131722" font-weight="normal" text-anchor="start" textLength="38" lengthAdjust="spacingAndGlyphs" stroke="#131722" stroke-width="0.3">5.200%</text>
<text x="2506" y="505" font-size="12.6" fill="#131722" font-weight="normal" text-anchor="start" textLength="38" lengthAdjust="spacingAndGlyphs" stroke="#131722" stroke-width="0.3">4.900%</text>
<text x="2506" y="547.1" font-size="12.6" fill="#131722" font-weight="normal" text-anchor="start" textLength="38" lengthAdjust="spacingAndGlyphs" stroke="#131722" stroke-width="0.3">4.600%</text>
<text x="2506" y="590.5" font-size="12.6" fill="#131722" font-weight="normal" text-anchor="start" textLength="38" lengthAdjust="spacingAndGlyphs" stroke="#131722" stroke-width="0.3">4.300%</text>
<text x="2506" y="638.2" font-size="12.6" fill="#131722" font-weight="normal" text-anchor="start" textLength="38" lengthAdjust="spacingAndGlyphs" stroke="#131722" stroke-width="0.3">4.000%</text>
<text x="2506" y="707.5" font-size="12.6" fill="#131722" font-weight="normal" text-anchor="start" textLength="38" lengthAdjust="spacingAndGlyphs" stroke="#131722" stroke-width="0.3">3.600%</text>
<text x="2506" y="745.1" font-size="12.6" fill="#131722" font-weight="normal" text-anchor="start" textLength="38" lengthAdjust="spacingAndGlyphs" stroke="#131722" stroke-width="0.3">3.400%</text>
<text x="2506" y="785.1" font-size="12.6" fill="#131722" font-weight="normal" text-anchor="start" textLength="38" lengthAdjust="spacingAndGlyphs" stroke="#131722" stroke-width="0.3">3.200%</text>
<text x="2506" y="816.7" font-size="12.6" fill="#131722" font-weight="normal" text-anchor="start" textLength="38" lengthAdjust="spacingAndGlyphs" stroke="#131722" stroke-width="0.3">3.050%</text>
<text x="2506" y="849.5" font-size="12.6" fill="#131722" font-weight="normal" text-anchor="start" textLength="38" lengthAdjust="spacingAndGlyphs" stroke="#131722" stroke-width="0.3">2.900%</text>
<text x="2506" y="884.3" font-size="12.6" fill="#131722" font-weight="normal" text-anchor="start" textLength="38" lengthAdjust="spacingAndGlyphs" stroke="#131722" stroke-width="0.3">2.750%</text>
<text x="2506" y="921.2" font-size="12.6" fill="#131722" font-weight="normal" text-anchor="start" textLength="38" lengthAdjust="spacingAndGlyphs" stroke="#131722" stroke-width="0.3">2.600%</text>
<text x="2506" y="960.1" font-size="12.6" fill="#131722" font-weight="normal" text-anchor="start" textLength="38" lengthAdjust="spacingAndGlyphs" stroke="#131722" stroke-width="0.3">2.450%</text>
<text x="2506" y="993" font-size="12.6" fill="#131722" font-weight="normal" text-anchor="start" textLength="38" lengthAdjust="spacingAndGlyphs" stroke="#131722" stroke-width="0.3">2.330%</text>
<text x="2506" y="1028.1" font-size="12.6" fill="#131722" font-weight="normal" text-anchor="start" textLength="38" lengthAdjust="spacingAndGlyphs" stroke="#131722" stroke-width="0.3">2.210%</text>
<text x="2506" y="1064.1" font-size="12.6" fill="#131722" font-weight="normal" text-anchor="start" textLength="38" lengthAdjust="spacingAndGlyphs" stroke="#131722" stroke-width="0.3">2.090%</text>
<text x="2506" y="1097.1" font-size="12.6" fill="#131722" font-weight="normal" text-anchor="start" textLength="38" lengthAdjust="spacingAndGlyphs" stroke="#131722" stroke-width="0.3">1.990%</text>
<text x="2506" y="1129.9" font-size="12.6" fill="#131722" font-weight="normal" text-anchor="start" textLength="38" lengthAdjust="spacingAndGlyphs" stroke="#131722" stroke-width="0.3">1.890%</text>
<text x="2506" y="1162.2" font-size="12.6" fill="#131722" font-weight="normal" text-anchor="start" textLength="38" lengthAdjust="spacingAndGlyphs" stroke="#131722" stroke-width="0.3">1.800%</text>
</g>
<rect x="2497.1" y="634.7" width="51.4" height="18.3" rx="2" ry="2" fill="#ffffff" stroke="#f23645" stroke-width="1"/>
<text x="2506" y="648.2" font-size="12" fill="#f23645" font-weight="normal" text-anchor="start" textLength="38" lengthAdjust="spacingAndGlyphs" stroke="#f23645" stroke-width="0.3">3.860%</text>
<path d="M2496.5,653 H2547 a2,2 0 0 1 2,2 V683.5 a2,2 0 0 1 -2,2 H2496.5z" fill="#26a69a"/>
<text x="2506" y="666.3" font-size="12" fill="#ffffff" font-weight="normal" text-anchor="start" textLength="38" lengthAdjust="spacingAndGlyphs" stroke="#ffffff" stroke-width="0.3">3.834%</text>
<text x="2506" y="681" font-size="12" fill="#ffffff" font-weight="normal" text-anchor="start" textLength="30.5" lengthAdjust="spacingAndGlyphs" opacity="0.8" stroke="#ffffff" stroke-width="0.3">6d 3h</text>
<rect x="2500.5" y="1.5" width="56" height="26" rx="4" ry="4" fill="#ffffff" stroke="#eeeff1" stroke-width="1"/>
<text x="2503.5" y="18.6" font-size="11" fill="#4a4e59" font-weight="normal" text-anchor="start" textLength="7.6" lengthAdjust="spacingAndGlyphs" stroke="#4a4e59" stroke-width="0.3">%</text>
<circle cx="2528.9" cy="1180.7" r="9.9" fill="#f3f3f4"/>
<text x="2529" y="1184.7" font-size="11.5" fill="#50535e" font-weight="normal" text-anchor="middle" stroke="#50535e" stroke-width="0.2">A</text>
<text x="66.4" y="1185.3" font-size="12" fill="#131722" font-weight="normal" text-anchor="middle" textLength="16.2" lengthAdjust="spacingAndGlyphs" stroke="#131722" stroke-width="0.3">Jul</text>
<text x="157.3" y="1185.3" font-size="12" fill="#131722" font-weight="bold" text-anchor="middle" textLength="28.4" lengthAdjust="spacingAndGlyphs">1993</text>
<text x="248.15" y="1185.3" font-size="12" fill="#131722" font-weight="normal" text-anchor="middle" textLength="16.2" lengthAdjust="spacingAndGlyphs" stroke="#131722" stroke-width="0.3">Jul</text>
<text x="338.53" y="1185.3" font-size="12" fill="#131722" font-weight="bold" text-anchor="middle" textLength="28.4" lengthAdjust="spacingAndGlyphs">1994</text>
<text x="429.3" y="1185.3" font-size="12" fill="#131722" font-weight="normal" text-anchor="middle" textLength="16.2" lengthAdjust="spacingAndGlyphs" stroke="#131722" stroke-width="0.3">Jul</text>
<text x="520.3" y="1185.3" font-size="12" fill="#131722" font-weight="bold" text-anchor="middle" textLength="28.4" lengthAdjust="spacingAndGlyphs">1995</text>
<text x="611.3" y="1185.3" font-size="12" fill="#131722" font-weight="normal" text-anchor="middle" textLength="16.2" lengthAdjust="spacingAndGlyphs" stroke="#131722" stroke-width="0.3">Jul</text>
<text x="701.5" y="1185.3" font-size="12" fill="#131722" font-weight="bold" text-anchor="middle" textLength="28.4" lengthAdjust="spacingAndGlyphs">1996</text>
<text x="792.4" y="1185.3" font-size="12" fill="#131722" font-weight="normal" text-anchor="middle" textLength="16.2" lengthAdjust="spacingAndGlyphs" stroke="#131722" stroke-width="0.3">Jul</text>
<text x="883.6" y="1185.3" font-size="12" fill="#131722" font-weight="bold" text-anchor="middle" textLength="28.4" lengthAdjust="spacingAndGlyphs">1997</text>
<text x="974.4" y="1185.3" font-size="12" fill="#131722" font-weight="normal" text-anchor="middle" textLength="16.2" lengthAdjust="spacingAndGlyphs" stroke="#131722" stroke-width="0.3">Jul</text>
<text x="1065" y="1185.3" font-size="12" fill="#131722" font-weight="bold" text-anchor="middle" textLength="28.4" lengthAdjust="spacingAndGlyphs">1998</text>
<text x="1156.4" y="1185.3" font-size="12" fill="#131722" font-weight="normal" text-anchor="middle" textLength="16.2" lengthAdjust="spacingAndGlyphs" stroke="#131722" stroke-width="0.3">Jul</text>
<text x="1246.4" y="1185.3" font-size="12" fill="#131722" font-weight="bold" text-anchor="middle" textLength="28.4" lengthAdjust="spacingAndGlyphs">1999</text>
<text x="1337.55" y="1185.3" font-size="12" fill="#131722" font-weight="normal" text-anchor="middle" textLength="16.2" lengthAdjust="spacingAndGlyphs" stroke="#131722" stroke-width="0.3">Jul</text>
<text x="1428.1" y="1185.3" font-size="12" fill="#131722" font-weight="bold" text-anchor="middle" textLength="28.4" lengthAdjust="spacingAndGlyphs">2000</text>
<text x="1518.6" y="1185.3" font-size="12" fill="#131722" font-weight="normal" text-anchor="middle" textLength="16.2" lengthAdjust="spacingAndGlyphs" stroke="#131722" stroke-width="0.3">Jul</text>
<text x="1609.4" y="1185.3" font-size="12" fill="#131722" font-weight="bold" text-anchor="middle" textLength="28.4" lengthAdjust="spacingAndGlyphs">2001</text>
<text x="1700.3" y="1185.3" font-size="12" fill="#131722" font-weight="normal" text-anchor="middle" textLength="16.2" lengthAdjust="spacingAndGlyphs" stroke="#131722" stroke-width="0.3">Jul</text>
<text x="1791.45" y="1185.3" font-size="12" fill="#131722" font-weight="bold" text-anchor="middle" textLength="28.4" lengthAdjust="spacingAndGlyphs">2002</text>
<text x="1881.6" y="1185.3" font-size="12" fill="#131722" font-weight="normal" text-anchor="middle" textLength="16.2" lengthAdjust="spacingAndGlyphs" stroke="#131722" stroke-width="0.3">Jul</text>
<text x="1973" y="1185.3" font-size="12" fill="#131722" font-weight="bold" text-anchor="middle" textLength="28.4" lengthAdjust="spacingAndGlyphs">2003</text>
<text x="2063.6" y="1185.3" font-size="12" fill="#131722" font-weight="normal" text-anchor="middle" textLength="16.2" lengthAdjust="spacingAndGlyphs" stroke="#131722" stroke-width="0.3">Jul</text>
<text x="2154.4" y="1185.3" font-size="12" fill="#131722" font-weight="bold" text-anchor="middle" textLength="28.4" lengthAdjust="spacingAndGlyphs">2004</text>
<text x="2245" y="1185.3" font-size="12" fill="#131722" font-weight="normal" text-anchor="middle" textLength="16.2" lengthAdjust="spacingAndGlyphs" stroke="#131722" stroke-width="0.3">Jul</text>
<text x="2336" y="1185.3" font-size="12" fill="#131722" font-weight="bold" text-anchor="middle" textLength="28.4" lengthAdjust="spacingAndGlyphs">2005</text>
<text x="2426.6" y="1185.3" font-size="12" fill="#131722" font-weight="normal" text-anchor="middle" textLength="16.2" lengthAdjust="spacingAndGlyphs" stroke="#131722" stroke-width="0.3">Jul</text>
<g fill="#0d0d0d"><path d="M10.3,1135.4 H22.8 V1150.9 H16.8 V1141.7 H10.3z"/><circle cx="28.1" cy="1138.6" r="3.1"/><path d="M34.4,1135.4 H41.7 L35.6,1150.9 H28.3z"/></g>
<g clip-path="url(#flag)"><rect x="6" y="4" width="21" height="21" fill="#fafcfd"/><rect x="6" y="4" width="21" height="5" fill="#ef5350"/><rect x="6" y="11.8" width="21" height="3.5" fill="#ef5350"/><rect x="6" y="19.6" width="21" height="5" fill="#ef5350"/><rect x="6" y="17.3" width="21" height="0.5" fill="#e4e8ec"/><rect x="6" y="4" width="11.9" height="11.3" fill="#1e88e5"/>
<circle cx="9.5" cy="7.5" r="0.75" fill="#ffffff"/>
<circle cx="12.6" cy="7.5" r="0.75" fill="#ffffff"/>
<circle cx="15.8" cy="7.5" r="0.75" fill="#ffffff"/>
<circle cx="9.5" cy="10.6" r="0.75" fill="#ffffff"/>
<circle cx="12.6" cy="10.6" r="0.75" fill="#ffffff"/>
<circle cx="15.8" cy="10.6" r="0.75" fill="#ffffff"/>
<circle cx="9.5" cy="13.6" r="0.75" fill="#ffffff"/>
<circle cx="12.6" cy="13.6" r="0.75" fill="#ffffff"/>
<circle cx="15.8" cy="13.6" r="0.75" fill="#ffffff"/>
</g>
<text x="30" y="20" font-size="16" fill="#131722" font-weight="normal" text-anchor="start" textLength="49" lengthAdjust="spacingAndGlyphs" stroke="#131722" stroke-width="0.3">United</text>
<text x="85" y="20" font-size="16" fill="#131722" font-weight="normal" text-anchor="start" textLength="45" lengthAdjust="spacingAndGlyphs" stroke="#131722" stroke-width="0.3">States</text>
<text x="136.6" y="20" font-size="16" fill="#131722" font-weight="normal" text-anchor="start" textLength="7" lengthAdjust="spacingAndGlyphs" stroke="#131722" stroke-width="0.3">3</text>
<text x="149.6" y="20" font-size="16" fill="#131722" font-weight="normal" text-anchor="start" textLength="44.4" lengthAdjust="spacingAndGlyphs" stroke="#131722" stroke-width="0.3">Month</text>
<text x="200.6" y="20" font-size="16" fill="#131722" font-weight="normal" text-anchor="start" textLength="90.4" lengthAdjust="spacingAndGlyphs" stroke="#131722" stroke-width="0.3">Government</text>
<text x="297.6" y="20" font-size="16" fill="#131722" font-weight="normal" text-anchor="start" textLength="42" lengthAdjust="spacingAndGlyphs" stroke="#131722" stroke-width="0.3">Bonds</text>
<text x="346" y="20" font-size="16" fill="#131722" font-weight="normal" text-anchor="start" textLength="35" lengthAdjust="spacingAndGlyphs" stroke="#131722" stroke-width="0.3">Yield</text>
<text x="395" y="20" font-size="16" fill="#131722" font-weight="normal" text-anchor="start" textLength="20" lengthAdjust="spacingAndGlyphs" stroke="#131722" stroke-width="0.3">1M</text>
<text x="428" y="20" font-size="16" fill="#131722" font-weight="normal" text-anchor="start" textLength="28.6" lengthAdjust="spacingAndGlyphs" stroke="#131722" stroke-width="0.3">TVC</text>
<circle cx="388" cy="14.6" r="1.25" fill="#131722"/><circle cx="421.6" cy="14.6" r="1.25" fill="#131722"/>
<path d="M469.9,8 H482.1 L478.65,14 L482.1,20 H469.9z" fill="#ff5252"/>
<circle cx="504" cy="14.05" r="9.2" fill="#f0f0f0"/>
<rect x="499.1" y="11.95" width="10.5" height="4.1" rx="2.05" fill="#999999"/>
<text x="522.6" y="19" font-size="14" fill="#131722" font-weight="normal" text-anchor="start" textLength="8.6" lengthAdjust="spacingAndGlyphs" stroke="#131722" stroke-width="0.3">O</text>
<text x="533" y="19" font-size="14" fill="#26a69a" font-weight="normal" text-anchor="start" textLength="40.6" lengthAdjust="spacingAndGlyphs" stroke="#26a69a" stroke-width="0.3">3.826%</text>
<text x="580.6" y="19" font-size="14" fill="#131722" font-weight="normal" text-anchor="start" textLength="8.4" lengthAdjust="spacingAndGlyphs" stroke="#131722" stroke-width="0.3">H</text>
<text x="590.4" y="19" font-size="14" fill="#26a69a" font-weight="normal" text-anchor="start" textLength="41.2" lengthAdjust="spacingAndGlyphs" stroke="#26a69a" stroke-width="0.3">4.092%</text>
<text x="638" y="19" font-size="14" fill="#131722" font-weight="normal" text-anchor="start" textLength="6.4" lengthAdjust="spacingAndGlyphs" stroke="#131722" stroke-width="0.3">L</text>
<text x="646" y="19" font-size="14" fill="#26a69a" font-weight="normal" text-anchor="start" textLength="41.4" lengthAdjust="spacingAndGlyphs" stroke="#26a69a" stroke-width="0.3">3.826%</text>
<text x="693.6" y="19" font-size="14" fill="#131722" font-weight="normal" text-anchor="start" textLength="7.4" lengthAdjust="spacingAndGlyphs" stroke="#131722" stroke-width="0.3">C</text>
<text x="703" y="19" font-size="14" fill="#26a69a" font-weight="normal" text-anchor="start" textLength="41.4" lengthAdjust="spacingAndGlyphs" stroke="#26a69a" stroke-width="0.3">3.834%</text>
<text x="751" y="19" font-size="14" fill="#26a69a" font-weight="normal" text-anchor="start" textLength="39.4" lengthAdjust="spacingAndGlyphs" stroke="#26a69a" stroke-width="0.3">−0.005</text>
<text x="796.4" y="19" font-size="14" fill="#26a69a" font-weight="normal" text-anchor="start" textLength="50.2" lengthAdjust="spacingAndGlyphs" stroke="#26a69a" stroke-width="0.3">(−0.13%)</text>
<rect x="6.5" y="30.6" width="56" height="35" rx="6" ry="6" fill="#ffffff" stroke="#f23645" stroke-opacity="0.75" stroke-width="1"/>
<text x="34.5" y="45.2" font-size="12" fill="#f23645" font-weight="bold" text-anchor="middle" textLength="33" lengthAdjust="spacingAndGlyphs" stroke="#f23645" stroke-width="0.3">3.836</text>
<text x="34.4" y="59" font-size="11" fill="#f23645" font-weight="normal" text-anchor="middle" textLength="24.6" lengthAdjust="spacingAndGlyphs" stroke="#f23645" stroke-width="0.3">SELL</text>
<text x="71.4" y="52.4" font-size="11" fill="#3a3d48" font-weight="normal" text-anchor="start" textLength="30.6" lengthAdjust="spacingAndGlyphs" stroke="#3a3d48" stroke-width="0.3">−0.015</text>
<rect x="110.6" y="30.6" width="55.4" height="35" rx="6" ry="6" fill="#ffffff" stroke="#2962ff" stroke-opacity="0.75" stroke-width="1"/>
<text x="138.4" y="45.2" font-size="12" fill="#2962ff" font-weight="bold" text-anchor="middle" textLength="32" lengthAdjust="spacingAndGlyphs" stroke="#2962ff" stroke-width="0.3">3.821</text>
<text x="138.5" y="59" font-size="11" fill="#2962ff" font-weight="normal" text-anchor="middle" textLength="21" lengthAdjust="spacingAndGlyphs" stroke="#2962ff" stroke-width="0.3">BUY</text>
<text x="7" y="87.6" font-size="14" fill="#131722" font-weight="normal" text-anchor="start" textLength="24" lengthAdjust="spacingAndGlyphs" stroke="#131722" stroke-width="0.3">SMA</text>
<text x="35.6" y="87.6" font-size="14" fill="#131722" font-weight="normal" text-anchor="start" textLength="19.4" lengthAdjust="spacingAndGlyphs" stroke="#131722" stroke-width="0.3">100</text>
<text x="60" y="87.6" font-size="14" fill="#131722" font-weight="normal" text-anchor="start" textLength="30" lengthAdjust="spacingAndGlyphs" stroke="#131722" stroke-width="0.3">close</text>
<text x="95" y="87.6" font-size="14" fill="#131722" font-weight="normal" text-anchor="start" textLength="6" lengthAdjust="spacingAndGlyphs" stroke="#131722" stroke-width="0.3">0</text>
<text x="106.4" y="87.6" font-size="14" fill="#131722" font-weight="normal" text-anchor="start" textLength="23.6" lengthAdjust="spacingAndGlyphs" stroke="#131722" stroke-width="0.3">SMA</text>
<text x="135" y="87.6" font-size="14" fill="#131722" font-weight="normal" text-anchor="start" textLength="6.4" lengthAdjust="spacingAndGlyphs" stroke="#131722" stroke-width="0.3">5</text>
<circle cx="159.65" cy="82.95" r="9.25" fill="#e8dffd"/>
<g fill="none" stroke="#651fff" stroke-width="1.7" stroke-linecap="round"><path d="M154.4,80.4 A5.3,5.3 0 0 1 163.9,79.9"/><path d="M164.5,84.7 A5.3,5.3 0 0 1 155.1,85.3"/></g><path d="M162,81.5 L166.6,80.3 L164.7,83z" fill="#651fff" stroke="#651fff" stroke-width="0.5" stroke-linejoin="round"/><path d="M157,83.5 L152,84.5 L154.3,82.3z" fill="#651fff" stroke="#651fff" stroke-width="0.5" stroke-linejoin="round"/>
<text x="177.4" y="87.6" font-size="14" fill="#ff9800" font-weight="normal" text-anchor="start" textLength="41.2" lengthAdjust="spacingAndGlyphs" stroke="#ff9800" stroke-width="0.3">2.543%</text>
<text x="7" y="113" font-size="14" fill="#b8bbc3" font-weight="normal" text-anchor="start" textLength="15" lengthAdjust="spacingAndGlyphs" stroke="#b8bbc3" stroke-width="0.3">BB</text>
<text x="26" y="113" font-size="14" fill="#b8bbc3" font-weight="normal" text-anchor="start" textLength="13.4" lengthAdjust="spacingAndGlyphs" stroke="#b8bbc3" stroke-width="0.3">20</text>
<text x="44.4" y="113" font-size="14" fill="#b8bbc3" font-weight="normal" text-anchor="start" textLength="23.6" lengthAdjust="spacingAndGlyphs" stroke="#b8bbc3" stroke-width="0.3">SMA</text>
<text x="73" y="113" font-size="14" fill="#b8bbc3" font-weight="normal" text-anchor="start" textLength="30" lengthAdjust="spacingAndGlyphs" stroke="#b8bbc3" stroke-width="0.3">close</text>
<text x="108" y="113" font-size="14" fill="#b8bbc3" font-weight="normal" text-anchor="start" textLength="6" lengthAdjust="spacingAndGlyphs" stroke="#b8bbc3" stroke-width="0.3">2</text>
<g fill="none" stroke="#33363f" stroke-width="1.25" stroke-linecap="round" transform="translate(133.1,108.05)"><path d="M-8.2,0 C-6.4,-3.2 -3.4,-6 -0.2,-6.05 C0.9,-6.05 1.9,-5.9 2.8,-5.65"/><path d="M6.2,-3.05 C7,-2.2 7.7,-1.1 8.2,0 C6.4,3.4 3.4,5.95 0,5.95 C-1,5.95 -1.9,5.7 -2.7,5.35"/><path d="M-8.2,0 C-7.6,1.2 -6.6,2.5 -5.3,3.45"/><path d="M-6,5.55 L5.7,-6.05"/><path d="M-2.9,-0.05 A3,3 0 0 1 0.1,-3.05"/><path d="M3.1,0.2 A3,3 0 0 1 0.4,2.93"/></g>
<text x="7" y="138" font-size="14" fill="#b8bbc3" font-weight="normal" text-anchor="start" textLength="14.6" lengthAdjust="spacingAndGlyphs" stroke="#b8bbc3" stroke-width="0.3">VP</text>
<text x="26" y="138" font-size="14" fill="#b8bbc3" font-weight="normal" text-anchor="start" textLength="21" lengthAdjust="spacingAndGlyphs" stroke="#b8bbc3" stroke-width="0.3">200</text>
<text x="51.6" y="138" font-size="14" fill="#b8bbc3" font-weight="normal" text-anchor="start" textLength="20.8" lengthAdjust="spacingAndGlyphs" stroke="#b8bbc3" stroke-width="0.3">500</text>
<text x="77.4" y="138" font-size="14" fill="#b8bbc3" font-weight="normal" text-anchor="start" textLength="13" lengthAdjust="spacingAndGlyphs" stroke="#b8bbc3" stroke-width="0.3">50</text>
<text x="96" y="138" font-size="14" fill="#b8bbc3" font-weight="normal" text-anchor="start" textLength="13" lengthAdjust="spacingAndGlyphs" stroke="#b8bbc3" stroke-width="0.3">30</text>
<text x="114" y="138" font-size="14" fill="#b8bbc3" font-weight="normal" text-anchor="start" textLength="6" lengthAdjust="spacingAndGlyphs" stroke="#b8bbc3" stroke-width="0.3">2</text>
<text x="125.6" y="138" font-size="14" fill="#b8bbc3" font-weight="normal" text-anchor="start" textLength="26.8" lengthAdjust="spacingAndGlyphs" stroke="#b8bbc3" stroke-width="0.3">Both</text>
<g fill="none" stroke="#33363f" stroke-width="1.25" stroke-linecap="round" transform="translate(171.5,133.05)"><path d="M-8.2,0 C-6.4,-3.2 -3.4,-6 -0.2,-6.05 C0.9,-6.05 1.9,-5.9 2.8,-5.65"/><path d="M6.2,-3.05 C7,-2.2 7.7,-1.1 8.2,0 C6.4,3.4 3.4,5.95 0,5.95 C-1,5.95 -1.9,5.7 -2.7,5.35"/><path d="M-8.2,0 C-7.6,1.2 -6.6,2.5 -5.3,3.45"/><path d="M-6,5.55 L5.7,-6.05"/><path d="M-2.9,-0.05 A3,3 0 0 1 0.1,-3.05"/><path d="M3.1,0.2 A3,3 0 0 1 0.4,2.93"/></g>
<text x="7" y="162.6" font-size="14" fill="#131722" font-weight="normal" text-anchor="start" textLength="17.4" lengthAdjust="spacingAndGlyphs" stroke="#131722" stroke-width="0.3">MA</text>
<text x="28.6" y="162.6" font-size="14" fill="#131722" font-weight="normal" text-anchor="start" textLength="30.4" lengthAdjust="spacingAndGlyphs" stroke="#131722" stroke-width="0.3">Cross</text>
<text x="63.6" y="162.6" font-size="14" fill="#131722" font-weight="normal" text-anchor="start" textLength="12.8" lengthAdjust="spacingAndGlyphs" stroke="#131722" stroke-width="0.3">50</text>
<text x="81.6" y="162.6" font-size="14" fill="#131722" font-weight="normal" text-anchor="start" textLength="20.4" lengthAdjust="spacingAndGlyphs" stroke="#131722" stroke-width="0.3">200</text>
<text x="111.6" y="162.6" font-size="14" fill="#f23645" font-weight="normal" text-anchor="start" textLength="40.6" lengthAdjust="spacingAndGlyphs" stroke="#f23645" stroke-width="0.3">3.913%</text>
<text x="159.8" y="162.6" font-size="14" fill="#2962ff" font-weight="normal" text-anchor="start" textLength="40.4" lengthAdjust="spacingAndGlyphs" stroke="#2962ff" stroke-width="0.3">1.350%</text>
<g fill="none" stroke="#2a2e39" stroke-width="1.2"><ellipse cx="211.1" cy="157.8" rx="3.3" ry="4.6"/><path d="M208,163.6 L214,151.6" stroke-width="0.9"/></g>
<rect x="6.7" y="174.5" width="28.8" height="19.8" rx="3.8" ry="3.8" fill="#ffffff" fill-opacity="0.8" stroke="#e9e9ea" stroke-width="1"/>
<path d="M17,186.5 L20.9,182.7 L24.8,186.5" fill="none" stroke="#222222" stroke-width="1.5" stroke-linecap="square"/>
</svg>
</body></html>
